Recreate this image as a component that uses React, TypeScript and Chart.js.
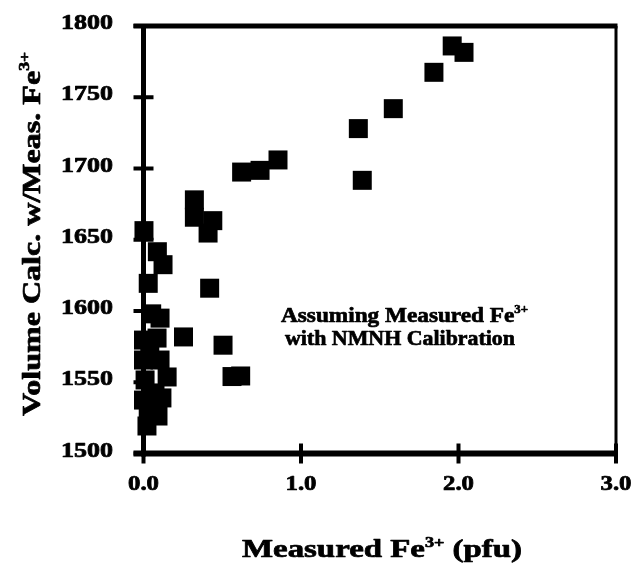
import React, { useEffect, useRef } from "react";
import { Chart, registerables } from "chart.js";

Chart.register(...registerables);

// ---- data ----
const measuredFe3 = [
  1.96, 2.035, 1.844, 1.586, 1.364, 1.389,
  0.623, 0.74, 0.854,
  0.323, 0.323, 0.44, 0.41,
  0.003, 0.088, 0.124, 0.03, 0.052, 0.42, 0.254, 0.505, 0.562, 0.617,
  0.0, 0.086, 0.04, 0.0, 0.105, 0.15, 0.01, 0.073, 0.117, 0.0, 0.03, 0.092, 0.022, 0.105,
];
const volumeCalc = [
  1786, 1781.5, 1767.5, 1742, 1728, 1691.7,
  1697.5, 1698.7, 1706,
  1678, 1665.8, 1663.4, 1654.7,
  1656.4, 1641.6, 1632.5, 1619.4, 1598, 1616, 1581.8, 1576, 1554, 1554.4,
  1579.6, 1581, 1569, 1565.6, 1565.6, 1553.7, 1551.6, 1542.5, 1539, 1537.5, 1529, 1526.3, 1519.3, 1595,
];
const xTickValues = [0, 1, 2, 3];
const yTickValues = [1500, 1550, 1600, 1650, 1700, 1750, 1800];
const xTickLabel = (v: number) => v.toFixed(1);
const yTickLabel = (v: number) => String(v);

type Seg = { text: string; sup?: boolean };
const xAxisTitle: Seg[] = [{ text: "Measured Fe" }, { text: "3+", sup: true }, { text: " (pfu)" }];
const yAxisTitle: Seg[] = [{ text: "Volume Calc. w/Meas. Fe" }, { text: "3+", sup: true }];
const noteLine1: Seg[] = [{ text: "Assuming Measured Fe" }, { text: "3+", sup: true }];
const noteLine2: Seg[] = [{ text: "with NMNH Calibration" }];

const FONT = "'Liberation Serif', 'Times New Roman', Times, serif";

function richWidth(ctx: CanvasRenderingContext2D, segs: Seg[], size: number) {
  let w = 0;
  for (const s of segs) {
    ctx.font = `bold ${(s.sup ? size * 0.55 : size).toFixed(1)}px ${FONT}`;
    w += ctx.measureText(s.text).width;
  }
  return w;
}

function drawRich(
  ctx: CanvasRenderingContext2D,
  segs: Seg[],
  size: number,
  x: number,
  y: number,
  opts: { width?: number; stretch?: number; align?: "left" | "center" | "right"; rotate?: number }
) {
  const nat = richWidth(ctx, segs, size);
  const sx = opts.width ? opts.width / nat : opts.stretch || 1;
  const align = opts.align || "left";
  ctx.save();
  ctx.translate(x, y);
  if (opts.rotate) ctx.rotate(opts.rotate);
  ctx.scale(sx, 1);
  let cx = align === "center" ? -nat / 2 : align === "right" ? -nat : 0;
  ctx.textBaseline = "alphabetic";
  ctx.textAlign = "left";
  ctx.fillStyle = "#000";
  ctx.strokeStyle = "#000";
  ctx.lineJoin = "round";
  ctx.lineWidth = 0.7;
  for (const s of segs) {
    const fs = s.sup ? size * 0.55 : size;
    ctx.font = `bold ${fs.toFixed(1)}px ${FONT}`;
    const dy = s.sup ? -size * 0.42 : 0;
    ctx.fillText(s.text, cx, dy);
    ctx.strokeText(s.text, cx, dy);
    cx += ctx.measureText(s.text).width;
  }
  ctx.restore();
}

const framePlugin = {
  id: "frameAndText",
  afterDraw(chart: any) {
    const ctx: CanvasRenderingContext2D = chart.ctx;
    const { left, right, top, bottom } = chart.chartArea;
    const xs = chart.scales.x;
    const ys = chart.scales.y;
    ctx.save();
    ctx.strokeStyle = "#000";
    ctx.lineCap = "butt";

    // frame
    ctx.lineWidth = 5;
    ctx.beginPath();
    ctx.moveTo(left - 10, top);
    ctx.lineTo(right + 1.5, top);
    ctx.stroke();
    ctx.lineWidth = 3;
    ctx.beginPath();
    ctx.moveTo(right, top);
    ctx.lineTo(right, bottom);
    ctx.stroke();
    ctx.lineWidth = 5;
    ctx.beginPath();
    ctx.moveTo(left, top - 2);
    ctx.lineTo(left, bottom + 3);
    ctx.stroke();
    ctx.lineWidth = 6;
    ctx.beginPath();
    ctx.moveTo(left - 10, bottom);
    ctx.lineTo(right + 1.5, bottom);
    ctx.stroke();

    // tick marks crossing the axes, and tick labels
    for (const v of yTickValues) {
      const py = ys.getPixelForValue(v);
      ctx.lineWidth = 4;
      ctx.beginPath();
      ctx.moveTo(left - 10, py);
      ctx.lineTo(left + 10, py);
      ctx.stroke();
      drawRich(ctx, [{ text: yTickLabel(v) }], 20, 113, py + 3, { width: 52, align: "right" });
    }
    for (const v of xTickValues) {
      const px = xs.getPixelForValue(v);
      ctx.lineWidth = 4;
      ctx.beginPath();
      ctx.moveTo(px, bottom - 10);
      ctx.lineTo(px, bottom + 10);
      ctx.stroke();
      drawRich(ctx, [{ text: xTickLabel(v) }], 20, px, 490, { width: 31, align: "center" });
    }

    // axis titles
    drawRich(ctx, xAxisTitle, 25, 382, 557, { width: 280, align: "center" });
    drawRich(ctx, yAxisTitle, 26, 40, 234, { width: 364, align: "center", rotate: -Math.PI / 2 });

    // annotation
    drawRich(ctx, noteLine1, 22, 404.5, 322, { width: 247, align: "center" });
    drawRich(ctx, noteLine2, 22, 400, 344.5, { width: 230, align: "center" });
    ctx.restore();
  },
};

export default function App() {
  const ref = useRef<HTMLCanvasElement | null>(null);
  useEffect(() => {
    let chart: Chart | null = null;
    let cancelled = false;
    const build = () => {
      if (cancelled || !ref.current) return;
      chart = new Chart(ref.current, {
        type: "scatter",
        data: {
          datasets: [
            {
              data: measuredFe3.map((x, i) => ({ x, y: volumeCalc[i] })),
              pointStyle: "rect",
              pointRadius: 13.43,
              pointHoverRadius: 13.43,
              backgroundColor: "#000",
              borderColor: "#000",
              borderWidth: 0,
              clip: false as any,
            },
          ],
        },
        options: {
          responsive: false,
          animation: false,
          events: [],
          layout: { padding: { top: 26, right: 22, left: 0, bottom: 0 } },
          plugins: { legend: { display: false }, tooltip: { enabled: false } },
          scales: {
            x: {
              type: "linear",
              min: 0,
              max: 3,
              afterBuildTicks: (s: any) => {
                s.ticks = xTickValues.map((v) => ({ value: v }));
              },
              ticks: { display: false },
              grid: { display: false },
              border: { display: false },
              afterFit: (s: any) => {
                s.height = 123.5;
              },
            },
            y: {
              type: "linear",
              min: 1500,
              max: 1800,
              afterBuildTicks: (s: any) => {
                s.ticks = yTickValues.map((v) => ({ value: v }));
              },
              ticks: { display: false },
              grid: { display: false },
              border: { display: false },
              afterFit: (s: any) => {
                s.width = 143.5;
              },
            },
          },
        } as any,
        plugins: [framePlugin],
      });
    };
    const fonts: any = (document as any).fonts;
    if (fonts && fonts.load) {
      Promise.all([
        fonts.load("bold 20px 'Liberation Serif'"),
        fonts.load("bold 12px 'Liberation Serif'"),
      ])
        .catch(() => null)
        .then(() => build());
    } else {
      build();
    }
    return () => {
      cancelled = true;
      if (chart) chart.destroy();
    };
  }, []);
  return (
    <div style={{ position: "fixed", left: 0, top: 0, width: 638, height: 577, background: "#fff" }}>
      <span style={{ fontFamily: "'Liberation Serif'", fontWeight: "bold", position: "absolute", left: -9999, top: 0 }}>
        Liberation
      </span>
      <canvas ref={ref} width={638} height={577} style={{ display: "block" }} />
    </div>
  );
}
